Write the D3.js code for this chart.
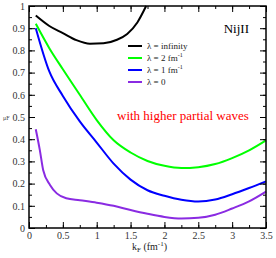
<!DOCTYPE html>
<html>
<head>
<meta charset="utf-8">
<script src="https://cdn.jsdelivr.net/npm/d3@7"></script>
<style>
  body { margin: 0; background: #fff; }
  text { font-family: "Liberation Serif", "DejaVu Serif", serif; }
</style>
</head>
<body>
<div id="chart"></div>
<script>
var w = 276,
    h = 258,
    m = [6, 10, 30, 29]; // top right bottom left

// curves: kF (fm^-1) against the ratio
var kInf = [0.1, 0.3, 0.5, 0.7, 0.9, 1.1, 1.3, 1.45, 1.6, 1.73];
var yInf = [0.957, 0.91, 0.878, 0.846, 0.83, 0.832, 0.848, 0.874, 0.926, 1.0];

var kGrid = [0.1, 0.3, 0.5, 0.75, 1.0, 1.25, 1.5, 1.75, 2.0, 2.25, 2.5, 2.75, 3.0, 3.25, 3.5];
var yLam2 = [0.92, 0.81, 0.715, 0.6, 0.486, 0.395, 0.34, 0.302, 0.28, 0.27, 0.274, 0.288, 0.315, 0.35, 0.395];
var yLam1 = [0.90, 0.705, 0.595, 0.48, 0.385, 0.29, 0.218, 0.17, 0.145, 0.127, 0.119, 0.128, 0.152, 0.18, 0.21];

var kLam0 = [0.1, 0.16, 0.21, 0.31, 0.41, 0.55, 0.75, 1.0, 1.25, 1.5, 1.75, 2.0, 2.25, 2.5, 2.75, 3.0, 3.25, 3.5];
var yLam0 = [0.445, 0.351, 0.26, 0.194, 0.156, 0.134, 0.125, 0.114, 0.1, 0.081, 0.064, 0.05, 0.043, 0.046, 0.06, 0.088, 0.12, 0.164];

var legendNames = ["\u03bb = infinity", "\u03bb = 2 fm", "\u03bb = 1 fm", "\u03bb = 0"];
var legendSup = ["", "-1", "-1", ""];
var colors = ["#000000", "#00ff00", "#0000ff", "#8a2be2"];

var xTicks = [0, 0.5, 1, 1.5, 2, 2.5, 3, 3.5];
var yTicks = [0, 0.1, 0.2, 0.3, 0.4, 0.5, 0.6, 0.7, 0.8, 0.9, 1];

var series = [
  {k: kInf, v: yInf},
  {k: kGrid, v: yLam2},
  {k: kGrid, v: yLam1},
  {k: kLam0, v: yLam0}
];

var pw = w - m[1] - m[3],
    ph = h - m[0] - m[2];

var x = d3.scaleLinear().domain([0, 3.5]).range([0, pw]);
var y = d3.scaleLinear().domain([0, 1]).range([ph, 0]);

var svg = d3.select("#chart").append("svg")
    .attr("width", w)
    .attr("height", h);

var g = svg.append("g")
    .attr("transform", "translate(" + m[3] + "," + m[0] + ")");

var line = d3.line()
    .x(function(d) { return x(d[0]); })
    .y(function(d) { return y(d[1]); })
    .curve(d3.curveMonotoneX);

series.forEach(function(s, i) {
  var pts = s.k.map(function(k, j) { return [k, s.v[j]]; });
  g.append("path")
      .attr("d", line(pts))
      .attr("fill", "none")
      .attr("stroke", colors[i])
      .attr("stroke-width", 2);
});

// axes, ticks inward on all sides
var minorX = d3.range(0, 3.51, 0.25), minorY = d3.range(0, 1.001, 0.05);

g.append("g").attr("transform", "translate(0," + ph + ")")
    .call(d3.axisBottom(x).tickValues(minorX).tickSize(-3).tickFormat(""));
g.append("g").attr("transform", "translate(0," + ph + ")")
    .call(d3.axisBottom(x).tickValues(xTicks).tickSize(-6).tickPadding(4).tickFormat(d3.format("")));
g.append("g")
    .call(d3.axisTop(x).tickValues(minorX).tickSize(-3).tickFormat(""));
g.append("g")
    .call(d3.axisTop(x).tickValues(xTicks).tickSize(-6).tickFormat(""));
g.append("g")
    .call(d3.axisLeft(y).tickValues(minorY).tickSize(-3).tickFormat(""));
g.append("g")
    .call(d3.axisLeft(y).tickValues(yTicks).tickSize(-6).tickPadding(4).tickFormat(d3.format("")));
g.append("g").attr("transform", "translate(" + pw + ",0)")
    .call(d3.axisRight(y).tickValues(minorY).tickSize(-3).tickFormat(""));
g.append("g").attr("transform", "translate(" + pw + ",0)")
    .call(d3.axisRight(y).tickValues(yTicks).tickSize(-6).tickFormat(""));

g.selectAll(".domain").remove();
g.selectAll(".tick line").attr("stroke", "#000").attr("stroke-width", 1);
g.selectAll(".tick text")
    .attr("font-family", "Liberation Serif, serif")
    .attr("font-size", 10)
    .attr("fill", "#333");

g.append("rect")
    .attr("width", pw)
    .attr("height", ph)
    .attr("fill", "none")
    .attr("stroke", "#000")
    .attr("stroke-width", 1.5);

// legend
var lg = g.append("g").attr("transform", "translate(99,40)");
legendNames.forEach(function(name, i) {
  var row = lg.append("g").attr("transform", "translate(0," + (i * 12) + ")");
  row.append("line")
      .attr("x1", 0).attr("x2", 14)
      .attr("stroke", colors[i]).attr("stroke-width", 2);
  var t = row.append("text")
      .attr("x", 19).attr("y", 3)
      .attr("font-size", 9)
      .attr("fill", "#222")
      .text(name);
  if (legendSup[i]) {
    t.append("tspan").attr("dy", -4).attr("font-size", 6).text(legendSup[i]);
  }
});

g.append("text")
    .attr("x", 220).attr("y", 27)
    .attr("text-anchor", "end")
    .attr("font-size", 13)
    .text("NijII");

g.append("text")
    .attr("x", 88).attr("y", 114)
    .attr("font-size", 13)
    .attr("fill", "#ff0000")
    .text("with higher partial waves");

// axis titles
svg.append("text")
    .attr("x", 3).attr("y", 120)
    .attr("font-size", 6)
    .attr("fill", "#444")
    .text("\u03bcF");

var xl = svg.append("text")
    .attr("x", 132).attr("y", 250)
    .attr("font-size", 10)
    .attr("fill", "#222")
    .text("k");
xl.append("tspan").attr("dy", 2).attr("font-size", 7).text("F");
xl.append("tspan").attr("dy", -2).text(" (fm");
xl.append("tspan").attr("dy", -4).attr("font-size", 7).text("-1");
xl.append("tspan").attr("dy", 4).text(")");
</script>
</body>
</html>
